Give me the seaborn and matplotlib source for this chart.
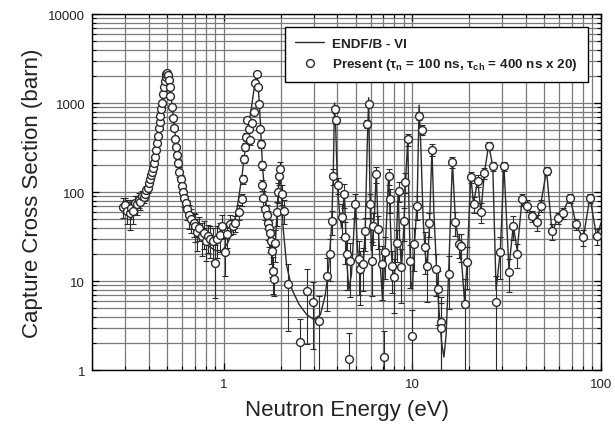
import numpy as np
import pandas as pd
import matplotlib
matplotlib.use("Agg")
import matplotlib.pyplot as plt
import seaborn as sns
from matplotlib.ticker import LogLocator, FuncFormatter, NullFormatter

# ENDF/B-VI evaluated curve vertices (energy eV, cross section barn)
endf_energy = [0.28, 0.30, 0.33, 0.36, 0.39, 0.42, 0.44, 0.46, 0.48, 0.495, 0.505, 0.52, 0.54, 0.56,
               0.58, 0.60, 0.63, 0.67, 0.72, 0.80, 0.90, 0.98, 1.05, 1.12, 1.18, 1.25, 1.32, 1.40,
               1.46, 1.49, 1.52, 1.56, 1.60, 1.65, 1.72, 1.80, 1.86, 1.92, 1.97, 2.01, 2.06, 2.15,
               2.30, 2.50, 2.75, 3.00, 3.25, 3.45, 3.60, 3.72, 3.80, 3.86, 3.92, 4.00, 4.10, 4.20,
               4.30, 4.35, 4.42, 4.50, 4.60, 4.75, 4.90, 4.98, 5.08, 5.20, 5.35, 5.50, 5.62, 5.75,
               5.86, 5.95, 6.05, 6.15, 6.30, 6.43, 6.55, 6.75, 6.95, 7.10, 7.30, 7.48, 7.60, 7.80,
               8.00, 8.20, 8.40, 8.55, 8.75, 9.00, 9.20, 9.45, 9.60, 9.80, 10.0, 10.3, 10.6, 10.85,
               11.1, 11.4, 11.7, 12.0, 12.3, 12.7, 13.0, 13.4, 13.8, 14.3, 14.7, 15.1, 15.6, 16.3,
               16.9, 17.6, 18.3, 18.9, 19.5, 20.4, 21.1, 22.2, 23.1, 24.1, 25.4, 26.7, 27.8, 29.3,
               30.6, 32.5, 34.3, 36.0, 38.2, 40.6, 42.9, 45.7, 47.9, 51.5, 55.1, 59.1, 62.9, 68.5,
               74.2, 80.6, 87.5, 95.3, 100.0]
endf_sigma = [65, 70, 75, 85, 110, 180, 330, 700, 1400, 2000, 2050, 1400, 650, 330,
              190, 120, 75, 48, 35, 26, 22, 22, 27, 40, 70, 160, 420, 900,
              1700, 2100, 1600, 600, 200, 90, 50, 28, 20, 70, 170, 120, 40, 15,
              8, 5.5, 4.2, 3.7, 4.2, 7, 15, 40, 150, 1000, 500, 120, 60, 40,
              70, 100, 40, 15, 8, 12, 40, 75, 30, 14, 12, 16, 40, 300,
              1150, 100, 22, 30, 60, 170, 50, 15, 6, 15, 50, 160, 60, 15,
              10, 25, 100, 30, 14, 40, 130, 400, 60, 10, 8, 30, 80, 950,
              300, 50, 20, 15, 40, 300, 60, 15, 5, 2.0, 1.4, 2.5, 14, 220,
              50, 27, 15, 6, 16, 150, 75, 135, 60, 165, 340, 195, 8, 22,
              200, 14, 42, 22, 85, 70, 55, 45, 72, 175, 35, 52, 60, 88,
              42, 30, 88, 30, 45]

# Present measurement (energy eV, cross section barn, relative uncertainty)
meas_energy = [0.290, 0.297, 0.305, 0.316, 0.322, 0.328, 0.336, 0.345, 0.352, 0.360, 0.367, 0.375,
               0.380, 0.387, 0.394, 0.400, 0.405, 0.410, 0.415, 0.420, 0.425, 0.430, 0.435, 0.440,
               0.445, 0.450, 0.455, 0.460, 0.465, 0.470, 0.475, 0.480, 0.485, 0.490, 0.495, 0.500,
               0.505, 0.510, 0.515, 0.520, 0.527, 0.535, 0.542, 0.549, 0.557, 0.565, 0.572, 0.580,
               0.588, 0.596, 0.605, 0.615, 0.625, 0.640, 0.655, 0.670, 0.690, 0.705, 0.720, 0.740,
               0.760, 0.780, 0.800, 0.820, 0.840, 0.870, 0.895, 0.920, 0.950, 0.980, 1.010, 1.040,
               1.080, 1.120, 1.150,
               1.20, 1.24, 1.26, 1.27, 1.29, 1.31, 1.33, 1.35, 1.37, 1.40, 1.44, 1.47, 1.49, 1.51,
               1.54, 1.56, 1.575, 1.59, 1.60, 1.62, 1.66, 1.70, 1.72, 1.74, 1.76, 1.78, 1.80, 1.83,
               1.85, 1.87, 1.91, 1.94, 1.97, 1.99, 2.03, 2.07, 2.20, 2.53, 2.75, 2.95, 3.21, 3.52,
               3.66, 3.74, 3.81, 3.87, 3.93, 4.05, 4.22, 4.31, 4.40, 4.50, 4.58, 4.67, 4.98, 5.18,
               5.25, 5.50, 5.62, 5.75, 5.86, 5.97, 6.10, 6.20, 6.43, 6.60, 6.90, 7.03, 7.15, 7.48,
               7.64, 7.80, 8.00, 8.30, 8.46, 8.73, 9.00, 9.16, 9.45, 9.67, 9.95, 10.2, 10.6, 10.9,
               11.2, 11.6, 11.95, 12.3, 12.7, 13.4, 13.6, 14.1, 14.2, 15.6, 16.3, 16.9, 17.6, 18.0,
               18.9, 19.5, 20.4, 21.1, 22.2, 23.1, 24.1, 25.4, 26.7, 27.8, 29.3, 30.6, 32.5, 34.3,
               36.0, 38.2, 40.6, 42.9, 45.7, 47.9, 51.5, 55.1, 59.1, 62.9, 68.5, 74.2, 80.6, 87.5,
               95.3]
meas_sigma = [68, 72, 62, 58, 66, 62, 75, 73, 82, 78, 90, 88,
              95, 105, 112, 125, 140, 155, 170, 185, 210, 245, 300, 360,
              430, 520, 620, 720, 850, 1000, 1250, 1500, 1750, 1950, 2100, 2150,
              2050, 1800, 1500, 1200, 900, 680, 520, 400, 320, 260, 215, 170,
              140, 118, 100, 85, 75, 65, 55, 50, 45, 42, 36, 40,
              32, 35, 28, 32, 30, 28, 16, 30, 33, 42, 21, 34,
              44, 42, 45,
              60, 83, 140, 235, 320, 420, 650, 510, 380, 600, 800, 1700, 2100, 1500,
              980, 510, 350, 200, 120, 85, 65, 55, 45, 40, 35, 28, 22, 13,
              10.5, 27, 60, 100, 150, 180, 95, 62, 9.2, 2.06, 7.8, 5.8, 3.6, 11.4,
              20, 47, 150, 850, 640, 120, 52, 95, 31, 20, 1.33, 16.7, 73, 17.6,
              13.6, 15.5, 36.6, 580, 980, 73, 17, 42, 160, 38, 15.5, 1.4, 21, 150,
              83, 14.7, 11, 27, 103, 14.3, 47, 130, 390, 16.8, 2.4, 26, 70, 715,
              500, 24, 14.7, 45, 300, 13.6, 8.1, 3.5, 3.0, 12, 217, 46, 26, 25,
              5.5, 16.3, 148, 73, 134, 60, 163, 330, 195, 5.8, 21, 195, 12.6, 41.5,
              20, 83, 70, 54, 46, 70, 173, 36.6, 51, 58, 86, 43.6, 31, 86,
              32]
meas_relerr = [0.25, 0.2, 0.3, 0.35, 0.25, 0.3, 0.2, 0.25, 0.2, 0.2, 0.15, 0.15,
               0.15, 0.12, 0.12, 0.1, 0.1, 0.1, 0.08, 0.08, 0.08, 0.06, 0.06, 0.06,
               0.05, 0.05, 0.05, 0.05, 0.05, 0.05, 0.05, 0.05, 0.05, 0.05, 0.05, 0.05,
               0.05, 0.05, 0.05, 0.05, 0.05, 0.05, 0.05, 0.06, 0.06, 0.08, 0.1, 0.12,
               0.12, 0.15, 0.2, 0.2, 0.2, 0.25, 0.3, 0.3, 0.3, 0.35, 0.4, 0.3,
               0.4, 0.35, 0.4, 0.35, 0.4, 0.4, 0.6, 0.4, 0.35, 0.3, 0.45, 0.3,
               0.25, 0.2, 0.2,
               0.2, 0.15, 0.12, 0.1, 0.1, 0.1, 0.08, 0.08, 0.1, 0.08, 0.06, 0.05, 0.05, 0.05,
               0.06, 0.08, 0.1, 0.12, 0.15, 0.2, 0.25, 0.3, 0.35, 0.4, 0.4, 0.45, 0.5, 0.45,
               0.35, 0.4, 0.3, 0.25, 0.2, 0.2, 0.25, 0.3, 0.7, 0.8, 0.75, 0.7, 0.9, 0.6,
               0.5, 0.3, 0.2, 0.08, 0.1, 0.2, 0.4, 0.3, 0.5, 0.6, 0.95, 0.6, 0.3, 0.6,
               0.6, 0.5, 0.4, 0.1, 0.08, 0.3, 0.6, 0.4, 0.2, 0.4, 0.6, 0.95, 0.5, 0.2,
               0.3, 0.5, 0.6, 0.4, 0.25, 0.6, 0.4, 0.25, 0.15, 0.5, 0.95, 0.5, 0.3, 0.1,
               0.12, 0.5, 0.6, 0.3, 0.15, 0.5, 0.6, 0.9, 0.9, 0.6, 0.15, 0.3, 0.3, 0.35,
               0.9, 0.5, 0.15, 0.2, 0.15, 0.25, 0.15, 0.1, 0.12, 0.95, 0.5, 0.12, 0.4, 0.3,
               0.3, 0.15, 0.15, 0.15, 0.2, 0.15, 0.1, 0.2, 0.15, 0.15, 0.12, 0.15, 0.2, 0.12,
               0.2]

legend_line = "ENDF/B - VI"
legend_pts = r"Present ($\tau_\mathregular{n}$ = 100 ns, $\tau_\mathregular{ch}$ = 400 ns x 20)"

sns.set_theme(style="ticks")
plt.rcParams["font.family"] = ["Liberation Sans", "DejaVu Sans"]
plt.rcParams["mathtext.fontset"] = "custom"
plt.rcParams["mathtext.rm"] = "Liberation Sans:bold"
plt.rcParams["mathtext.it"] = "Liberation Sans:bold"
plt.rcParams["mathtext.bf"] = "Liberation Sans:bold"

endf = pd.DataFrame({"E": endf_energy, "sigma": endf_sigma})
meas = pd.DataFrame({"E": meas_energy, "sigma": meas_sigma, "rel": meas_relerr})

fig = plt.figure(figsize=(6.15, 4.31), dpi=100)
ax = fig.add_axes([0.150, 0.139, 0.827, 0.826])

dark = "#2b2b2b"
grid_c = "#7a7a7a"

ax.set_xscale("log")
ax.set_yscale("log")
ax.set_xlim(0.2, 100)
ax.set_ylim(1, 10000)

ax.grid(True, which="both", color=grid_c, lw=0.9, zorder=0)
ax.set_axisbelow(True)

sns.lineplot(data=endf, x="E", y="sigma", sort=False, ax=ax, color=dark, lw=1.0,
             label=legend_line, zorder=3)

err = meas["sigma"] * meas["rel"]
ax.errorbar(meas["E"], meas["sigma"], yerr=err, fmt="none", ecolor=dark, elinewidth=0.8,
            capsize=2.5, capthick=0.8, zorder=4)
sns.scatterplot(data=meas, x="E", y="sigma", ax=ax, marker="o", s=32, facecolor="white",
                edgecolor=dark, linewidth=1.0, label=legend_pts, zorder=5)

ax.xaxis.set_major_locator(LogLocator(base=10, numticks=10))
ax.xaxis.set_minor_locator(LogLocator(base=10, subs=np.arange(2, 10), numticks=20))
ax.yaxis.set_major_locator(LogLocator(base=10, numticks=10))
ax.yaxis.set_minor_locator(LogLocator(base=10, subs=np.arange(2, 10), numticks=20))
fmt = FuncFormatter(lambda v, p: f"{v:g}")
ax.xaxis.set_major_formatter(fmt)
ax.yaxis.set_major_formatter(fmt)
ax.xaxis.set_minor_formatter(NullFormatter())
ax.yaxis.set_minor_formatter(NullFormatter())
ax.tick_params(which="both", direction="in", top=True, right=True, colors="black",
               labelcolor="#222222", labelsize=9.5)
ax.tick_params(axis="x", which="major", pad=6)
ax.tick_params(axis="y", which="major", pad=5)
ax.tick_params(which="major", length=5, width=0.9)
ax.tick_params(which="minor", length=3, width=0.8)
for s in ax.spines.values():
    s.set_color("black")
    s.set_linewidth(1.0)

ax.set_xlabel("Neutron Energy (eV)", fontsize=16, color="#222222", labelpad=6)
ax.set_ylabel("Capture Cross Section (barn)", fontsize=16, color="#222222", labelpad=4)

leg = ax.legend(loc="upper right", bbox_to_anchor=(0.975, 0.963), frameon=True, fancybox=False,
                edgecolor="black", framealpha=1, prop={"weight": "bold", "size": 9.7},
                handlelength=2.2, handletextpad=0.6, borderpad=0.75, labelspacing=0.45,
                borderaxespad=0.0)
leg.get_frame().set_linewidth(1.0)
for t in leg.get_texts():
    t.set_color("#222222")

fig.savefig("out.png", dpi=100)
